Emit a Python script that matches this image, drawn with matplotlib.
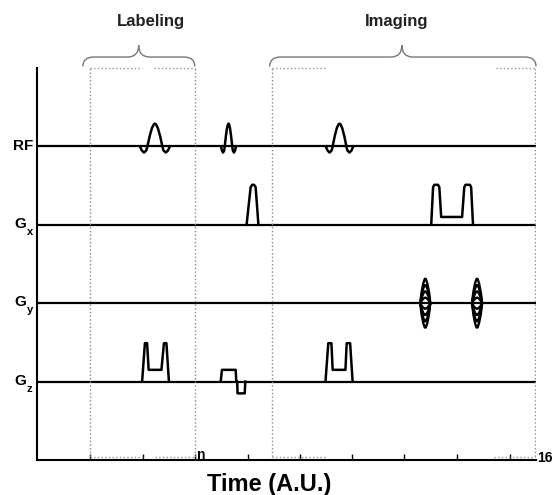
import matplotlib
matplotlib.use('Agg')
import matplotlib.pyplot as plt
from matplotlib.path import Path
from matplotlib.patches import PathPatch

plt.rcParams['font.family'] = ['Liberation Sans', 'DejaVu Sans']

# channel baselines (y positions) and labels
channels = ['RF', 'Gx', 'Gy', 'Gz']
baselines = [4, 3, 2, 1]

# RF sinc pulses: centre, lobe half width, amplitude
rf_centers = [3.78, 6.14, 9.70]
rf_halfwidths = [0.24, 0.12, 0.22]
rf_amp = 0.29
# sinc-like template (t in half widths, v relative)
rf_shape_t = [-2.0, -1.75, -1.45, -1.15, -1.0, -0.7, -0.4, -0.15, 0.0,
              0.15, 0.4, 0.7, 1.0, 1.15, 1.45, 1.75, 2.0]
rf_shape_v = [0.0, -0.18, -0.27, -0.18, 0.0, 0.45, 0.8, 0.97, 1.0,
              0.97, 0.8, 0.45, 0.0, -0.18, -0.27, -0.18, 0.0]

# Gx gradients
gx1_x = [6.72, 6.85, 6.90, 6.96, 7.01, 7.10]
gx1_v = [0.0, 0.48, 0.51, 0.51, 0.48, 0.0]
gx2_x = [12.64, 12.70, 12.74, 12.86, 12.90, 12.96, 13.63, 13.70, 13.74, 13.88, 13.92, 13.98]
gx2_v = [0.0, 0.48, 0.51, 0.51, 0.48, 0.10, 0.10, 0.48, 0.51, 0.51, 0.48, 0.0]

# Gy phase encoding tables
gy_centers = [12.45, 14.11]
gy_amps = [0.31, 0.23, 0.15, 0.07, -0.07, -0.15, -0.23, -0.31]
gy_halfwidth = 0.16
gy_shape_t = [-1.0, -0.75, -0.4, -0.1, 0.1, 0.4, 0.75, 1.0]
gy_shape_v = [0.0, 0.45, 0.82, 1.0, 1.0, 0.82, 0.45, 0.0]

# Gz gradients
gz1_x = [3.37, 3.46, 3.53, 3.58, 3.99, 4.07, 4.15, 4.23]
gz1_v = [0.0, 0.49, 0.49, 0.15, 0.15, 0.49, 0.49, 0.0]
gz2_x = [5.89, 5.93, 6.37, 6.39, 6.42, 6.43, 6.66, 6.68]
gz2_v = [0.0, 0.15, 0.15, 0.0, 0.0, -0.15, -0.15, 0.0]
gz3_x = [9.25, 9.34, 9.44, 9.48, 9.89, 9.93, 10.04, 10.12]
gz3_v = [0.0, 0.49, 0.49, 0.15, 0.15, 0.49, 0.49, 0.0]

# dotted window boundaries
window_x = [1.70, 5.06, 7.55, 15.97]
top_segments = [(1.70, 3.36), (3.74, 5.06), (7.55, 9.28), (14.72, 15.97)]
bottom_segments = [(1.70, 3.39), (3.78, 5.06), (7.55, 9.25), (14.66, 15.97)]

# braces: start, end, tip, label, label x
braces = [(1.47, 5.06, 3.26, 'Labeling', 3.65), (7.46, 16.0, 11.70, 'Imaging', 11.52)]

tick_pos = [1.70, 3.39, 5.06, 6.75, 8.42, 10.11, 11.78, 13.47, 15.17]

fig = plt.figure(figsize=(5.53, 4.95), dpi=100)
ax = fig.add_axes([37 / 553, 35 / 495, 499 / 553, 392 / 495])
ax.set_xlim(0, 16)
ax.set_ylim(0, 5)

lw = 1.8
# baselines
for b in baselines:
    ax.plot([0, 16], [b, b], color='black', lw=1.6, solid_capstyle='butt')

# RF
for c, hw in zip(rf_centers, rf_halfwidths):
    xs = [c + t * hw for t in rf_shape_t]
    ys = [4 + v * rf_amp for v in rf_shape_v]
    ax.plot(xs, ys, color='black', lw=lw, solid_joinstyle='round')

# Gx
for xs, vs in [(gx1_x, gx1_v), (gx2_x, gx2_v)]:
    ax.plot(xs, [3 + v for v in vs], color='black', lw=lw, solid_joinstyle='round')

# Gy
for c in gy_centers:
    for a in gy_amps:
        ax.plot([c + t * gy_halfwidth for t in gy_shape_t],
                [2 + a * v for v in gy_shape_v], color='black', lw=1.7,
                solid_joinstyle='round')

# Gz
for xs, vs in [(gz1_x, gz1_v), (gz2_x, gz2_v), (gz3_x, gz3_v)]:
    ax.plot(xs, [1 + v for v in vs], color='black', lw=lw, solid_joinstyle='round')

# dotted windows
for x in window_x:
    ax.plot([x, x], [0, 5], color='#888888', lw=1.0, ls=':')
for x0, x1 in top_segments:
    ax.plot([x0, x1], [5, 5], color='#999999', lw=1.0, ls=':', clip_on=False)
for x0, x1 in bottom_segments:
    ax.plot([x0, x1], [0.04, 0.04], color='#999999', lw=1.0, ls=':')

# braces
ym, ye, yt, r = 5.14, 5.02, 5.29, 0.35
for x0, x1, tip, label, lx in braces:
    verts = [(x0, ye), (x0, ym), (x0 + r, ym), (tip - r, ym), (tip, ym), (tip, yt),
             (tip, ym), (tip + r, ym), (x1 - r, ym), (x1, ym), (x1, ye)]
    codes = [Path.MOVETO, Path.CURVE3, Path.CURVE3, Path.LINETO, Path.CURVE3, Path.CURVE3,
             Path.CURVE3, Path.CURVE3, Path.LINETO, Path.CURVE3, Path.CURVE3]
    ax.add_patch(PathPatch(Path(verts, codes), fill=False, edgecolor='#777777',
                           lw=1.0, clip_on=False))
    ax.text(lx, 5.59, label, ha='center', va='center',
            fontsize=12, fontweight='bold', color='#222222')

# channel labels
ax.text(-0.13, 4, 'RF', ha='right', va='center', fontsize=11, fontweight='bold')
for b, sub in zip([3, 2, 1], ['x', 'y', 'z']):
    ax.text(-0.35, b + 0.01, 'G', ha='right', va='center', fontsize=11, fontweight='bold')
    ax.text(-0.33, b - 0.09, sub, ha='left', va='center', fontsize=8, fontweight='bold')

# axes styling
for s in ['top', 'right']:
    ax.spines[s].set_visible(False)
ax.spines['left'].set_linewidth(1.5)
ax.spines['bottom'].set_linewidth(1.5)
ax.set_yticks([])
ax.set_xticks(tick_pos)
ax.set_xticklabels([])
ax.tick_params(axis='x', direction='in', length=4, width=1)
ax.text(5.12, -0.03, 'n', ha='left', va='bottom', fontsize=10, fontweight='bold')
ax.text(16.05, 0.03, '16', ha='left', va='center', fontsize=10, fontweight='bold')
ax.text(7.45, -0.31, 'Time (A.U.)', ha='center', va='center', fontsize=17, fontweight='bold')

fig.savefig('out.png', dpi=100)
